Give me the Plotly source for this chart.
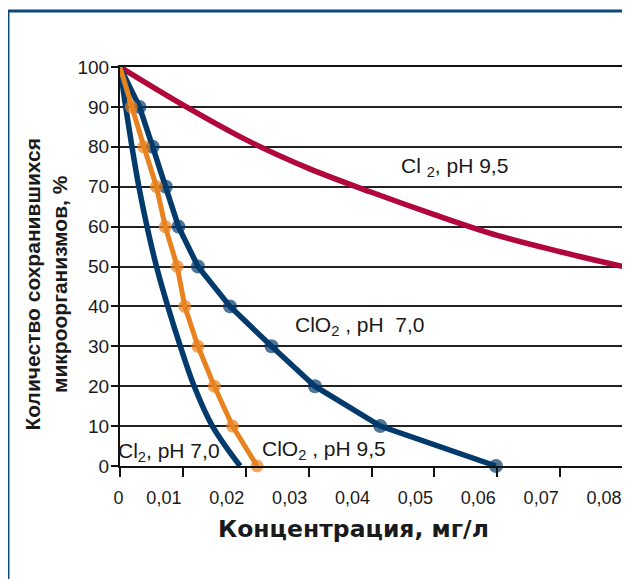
import plotly.graph_objects as go

# кривые выживаемости микроорганизмов
cl2_95_x = [0, 0.01, 0.02, 0.03, 0.04, 0.05, 0.06, 0.07, 0.08]
cl2_95_y = [100, 90.5, 81.8, 74.6, 68.6, 63.0, 57.8, 53.7, 50]

clo2_70_x = [0, 0.0031, 0.0052, 0.0073, 0.0093, 0.0124, 0.0175, 0.0241, 0.0310, 0.0414, 0.0598]
clo2_70_y = [100, 90, 80, 70, 60, 50, 40, 30, 20, 10, 0]

clo2_95_x = [0, 0.0018, 0.0038, 0.0058, 0.0072, 0.0091, 0.0103, 0.0124, 0.0150, 0.0179, 0.0218]
clo2_95_y = [100, 90, 80, 70, 60, 50, 40, 30, 20, 10, 0]

cl2_70_x = [0, 0.0009, 0.0019, 0.0030, 0.0043, 0.0058, 0.0076, 0.0096, 0.0118, 0.0147, 0.0191]
cl2_70_y = [100, 90, 80, 70, 60, 50, 40, 30, 20, 10, 0]

x_ticks = [0, 0.01, 0.02, 0.03, 0.04, 0.05, 0.06, 0.07, 0.08]
x_tick_labels = ["\u00a0" * 7 + "0", "0,01", "0,02", "0,03", "0,04", "0,05", "0,06", "0,07", "0,08"]
y_ticks = [0, 10, 20, 30, 40, 50, 60, 70, 80, 90, 100]

NAVY = "#033a6c"
ORANGE = "#e8821e"
CRIMSON = "#b1073b"
TXT = "#1a1a1a"
FONT = "Liberation Sans"

fig = go.Figure()

fig.add_trace(go.Scatter(x=cl2_95_x, y=cl2_95_y, mode="lines", line=dict(color=CRIMSON, width=5.5, shape="spline"),
                         cliponaxis=False))
fig.add_trace(go.Scatter(x=cl2_70_x, y=cl2_70_y, mode="lines", line=dict(color=NAVY, width=5.5, shape="spline"),
                         cliponaxis=False))
fig.add_trace(go.Scatter(x=clo2_70_x, y=clo2_70_y, mode="lines+markers", line=dict(color=NAVY, width=5.5),
                         marker=dict(color=NAVY, size=[0] + [14] * 10, line=dict(width=0)), cliponaxis=False))
fig.add_trace(go.Scatter(x=clo2_95_x, y=clo2_95_y, mode="lines+markers", line=dict(color=ORANGE, width=5),
                         marker=dict(color=ORANGE, size=[0] + [13] * 10, line=dict(width=0)), cliponaxis=False))

labels = [
    (0.0532, 75.0, "Cl <sub>2</sub>, pH 9,5"),
    (0.0382, 35.0, "ClO<sub>2</sub> , pH\u00a0\u00a07,0"),
    (0.0325, 4.0, "ClO<sub>2</sub> , pH 9,5"),
    (0.0078, 3.6, "Cl<sub>2</sub>, pH 7,0"),
]
for lx, ly, txt in labels:
    fig.add_annotation(x=lx, y=ly, text=txt, showarrow=False, xanchor="center", yanchor="middle",
                       font=dict(family=FONT, size=21, color=TXT))

# подписи осей
fig.add_annotation(xref="paper", yref="paper", x=-0.147, y=0.455, text="Количество сохранившихся<br>микроорганизмов, %",
                   textangle=-90, showarrow=False, xanchor="center", yanchor="middle",
                   font=dict(family=FONT, size=21, color=TXT, weight="bold"))
fig.add_annotation(xref="paper", yref="paper", x=0.465, y=-0.158, text="Концентрация, мг/л",
                   showarrow=False, xanchor="center", yanchor="middle",
                   font=dict(family="DejaVu Sans", size=23.5, color=TXT, weight="bold"))

# синяя рамка
fig.add_shape(type="rect", xref="paper", yref="paper", x0=-0.2227, x1=1.06, y0=-0.34, y1=1.1404,
              line=dict(color="#0d4a7b", width=3), layer="below")

fig.update_xaxes(range=[0, 0.08], tickvals=x_ticks, ticktext=x_tick_labels, showgrid=False, zeroline=False,
                 showline=True, linecolor="#111", linewidth=2, mirror=True, ticks="outside", ticklen=9,
                 tickwidth=2, tickcolor="#111", ticklabelshift=-19, ticklabelstandoff=5,
                 ticklabeloverflow="allow", tickfont=dict(family=FONT, size=18, color=TXT))
fig.update_yaxes(range=[0, 100], tickvals=y_ticks, showgrid=True, gridcolor="#222", gridwidth=1.5, zeroline=False,
                 showline=True, linecolor="#111", linewidth=2, mirror=True, ticks="outside", ticklen=7,
                 tickwidth=2, tickcolor="#111", ticklabelstandoff=-2,
                 tickfont=dict(family=FONT, size=19, color=TXT))

# страница отрисовывается со смещением 8px (отступ body), поэтому поля сдвинуты
fig.update_layout(width=630, height=579, margin=dict(l=112, r=15, t=59, b=121), showlegend=False,
                  plot_bgcolor="white", paper_bgcolor="white")

fig.write_html("out.html")
